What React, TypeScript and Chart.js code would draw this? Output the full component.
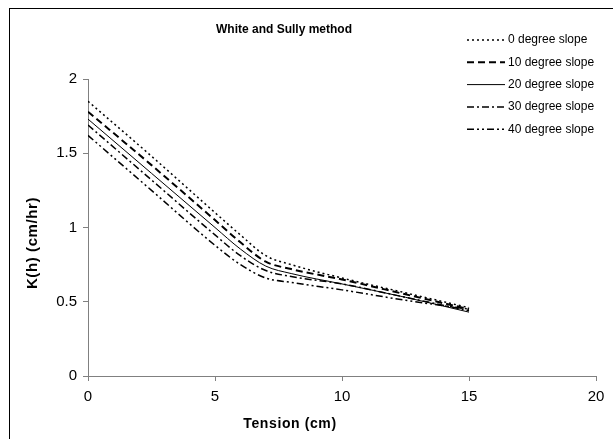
import React, { useEffect, useRef } from "react";
import { Chart, registerables } from "chart.js";

Chart.register(...registerables);

const chartTitle = "White and Sully method";
const xTitle = "Tension (cm)";
const yTitle = "K(h) (cm/hr)";

const tension = [0, 2.5, 5, 6, 7, 8, 10, 12.5, 15];
const slope0 = [1.85, 1.48, 1.1, 0.95, 0.81, 0.75, 0.66, 0.56, 0.46];
const slope10 = [1.78, 1.42, 1.05, 0.9, 0.77, 0.72, 0.65, 0.55, 0.45];
const slope20 = [1.73, 1.365, 1.0, 0.855, 0.74, 0.69, 0.62, 0.53, 0.43];
const slope30 = [1.69, 1.32, 0.95, 0.81, 0.71, 0.67, 0.62, 0.53, 0.44];
const slope40 = [1.62, 1.25, 0.88, 0.75, 0.66, 0.63, 0.58, 0.51, 0.45];

const seriesLabels = [
  "0 degree slope",
  "10 degree slope",
  "20 degree slope",
  "30 degree slope",
  "40 degree slope",
];
const seriesValues = [slope0, slope10, slope20, slope30, slope40];
const seriesDash = [[2, 3], [7, 4], [], [7, 3, 2, 3], [7, 3, 2, 3, 2, 3]];
const seriesWidth = [1.5, 2, 1, 1.5, 1.5];

const FONT = '"Liberation Sans", Arial, sans-serif';

const annotPlugin = {
  id: "annot",
  afterDraw(chart: any) {
    const ctx = chart.ctx;
    ctx.save();
    ctx.fillStyle = "#000";
    ctx.textBaseline = "middle";
    ctx.textAlign = "center";
    ctx.font = `bold 12px ${FONT}`;
    ctx.fillText(chartTitle, 284, 30);
    ctx.font = `bold 14px ${FONT}`;
    try { (ctx as any).letterSpacing = "0.6px"; } catch (e) {}
    ctx.fillText(xTitle, 290, 424);
    ctx.save();
    ctx.translate(33, 243);
    ctx.rotate(-Math.PI / 2);
    ctx.font = `bold 15px ${FONT}`;
    ctx.fillText(yTitle, 0, 0);
    ctx.restore();
    try { (ctx as any).letterSpacing = "0px"; } catch (e) {}
    // legend
    ctx.font = `12px ${FONT}`;
    ctx.textAlign = "left";
    chart.data.datasets.forEach((ds: any, i: number) => {
      const y = 40 + i * 22.3;
      ctx.beginPath();
      ctx.strokeStyle = "#000";
      ctx.lineWidth = ds.borderWidth;
      ctx.setLineDash(ds.borderDash || []);
      ctx.moveTo(467, y);
      ctx.lineTo(505, y);
      ctx.stroke();
      ctx.setLineDash([]);
      ctx.fillText(ds.label, 508, y);
    });
    ctx.restore();
  },
};

export default function App() {
  const ref = useRef<HTMLCanvasElement>(null);
  useEffect(() => {
    document.body.style.margin = "0";
    const c = ref.current!;
    const chart = new Chart(c, {
      type: "line",
      data: {
        datasets: seriesLabels.map((label, i) => ({
          label,
          data: tension.map((t, j) => ({ x: t, y: seriesValues[i][j] })),
          borderColor: "#000",
          borderWidth: seriesWidth[i],
          borderDash: seriesDash[i],
          pointRadius: 0,
          fill: false,
          cubicInterpolationMode: "monotone" as const,
        })),
      },
      options: {
        responsive: false,
        animation: false,
        layout: { padding: { top: 79, right: 17, left: 0, bottom: 0 } },
        plugins: { legend: { display: false }, title: { display: false }, tooltip: { enabled: false } },
        scales: {
          x: {
            type: "linear",
            min: 0,
            max: 20,
            ticks: {
              stepSize: 5,
              padding: 7,
              color: "#000",
              font: { family: FONT, size: 15 },
              callback: (v: any) => String(v),
            },
            grid: { display: true, drawOnChartArea: false, drawTicks: true, tickLength: 5, color: "#808080" },
            border: { display: true, color: "#808080", width: 1 },
            afterFit(scale: any) {
              scale.height = 63;
            },
          },
          y: {
            type: "linear",
            min: 0,
            max: 2,
            ticks: {
              stepSize: 0.5,
              padding: 6,
              color: "#000",
              font: { family: FONT, size: 15 },
              callback: (v: any) => String(v),
            },
            grid: { display: true, drawOnChartArea: false, drawTicks: true, tickLength: 5, color: "#808080" },
            border: { display: true, color: "#808080", width: 1 },
            afterFit(scale: any) {
              scale.width = 88;
            },
          },
        },
      },
      plugins: [annotPlugin],
    });
    return () => chart.destroy();
  }, []);
  return (
    <div style={{ position: "relative", width: 613, height: 439, overflow: "hidden", background: "#fff" }}>
      <div
        style={{
          position: "absolute",
          left: 9,
          top: 8,
          width: 700,
          height: 600,
          border: "1px solid #000",
          boxSizing: "border-box",
        }}
      />
      <canvas ref={ref} width={613} height={439} style={{ position: "absolute", left: 0, top: 0 }} />
    </div>
  );
}
